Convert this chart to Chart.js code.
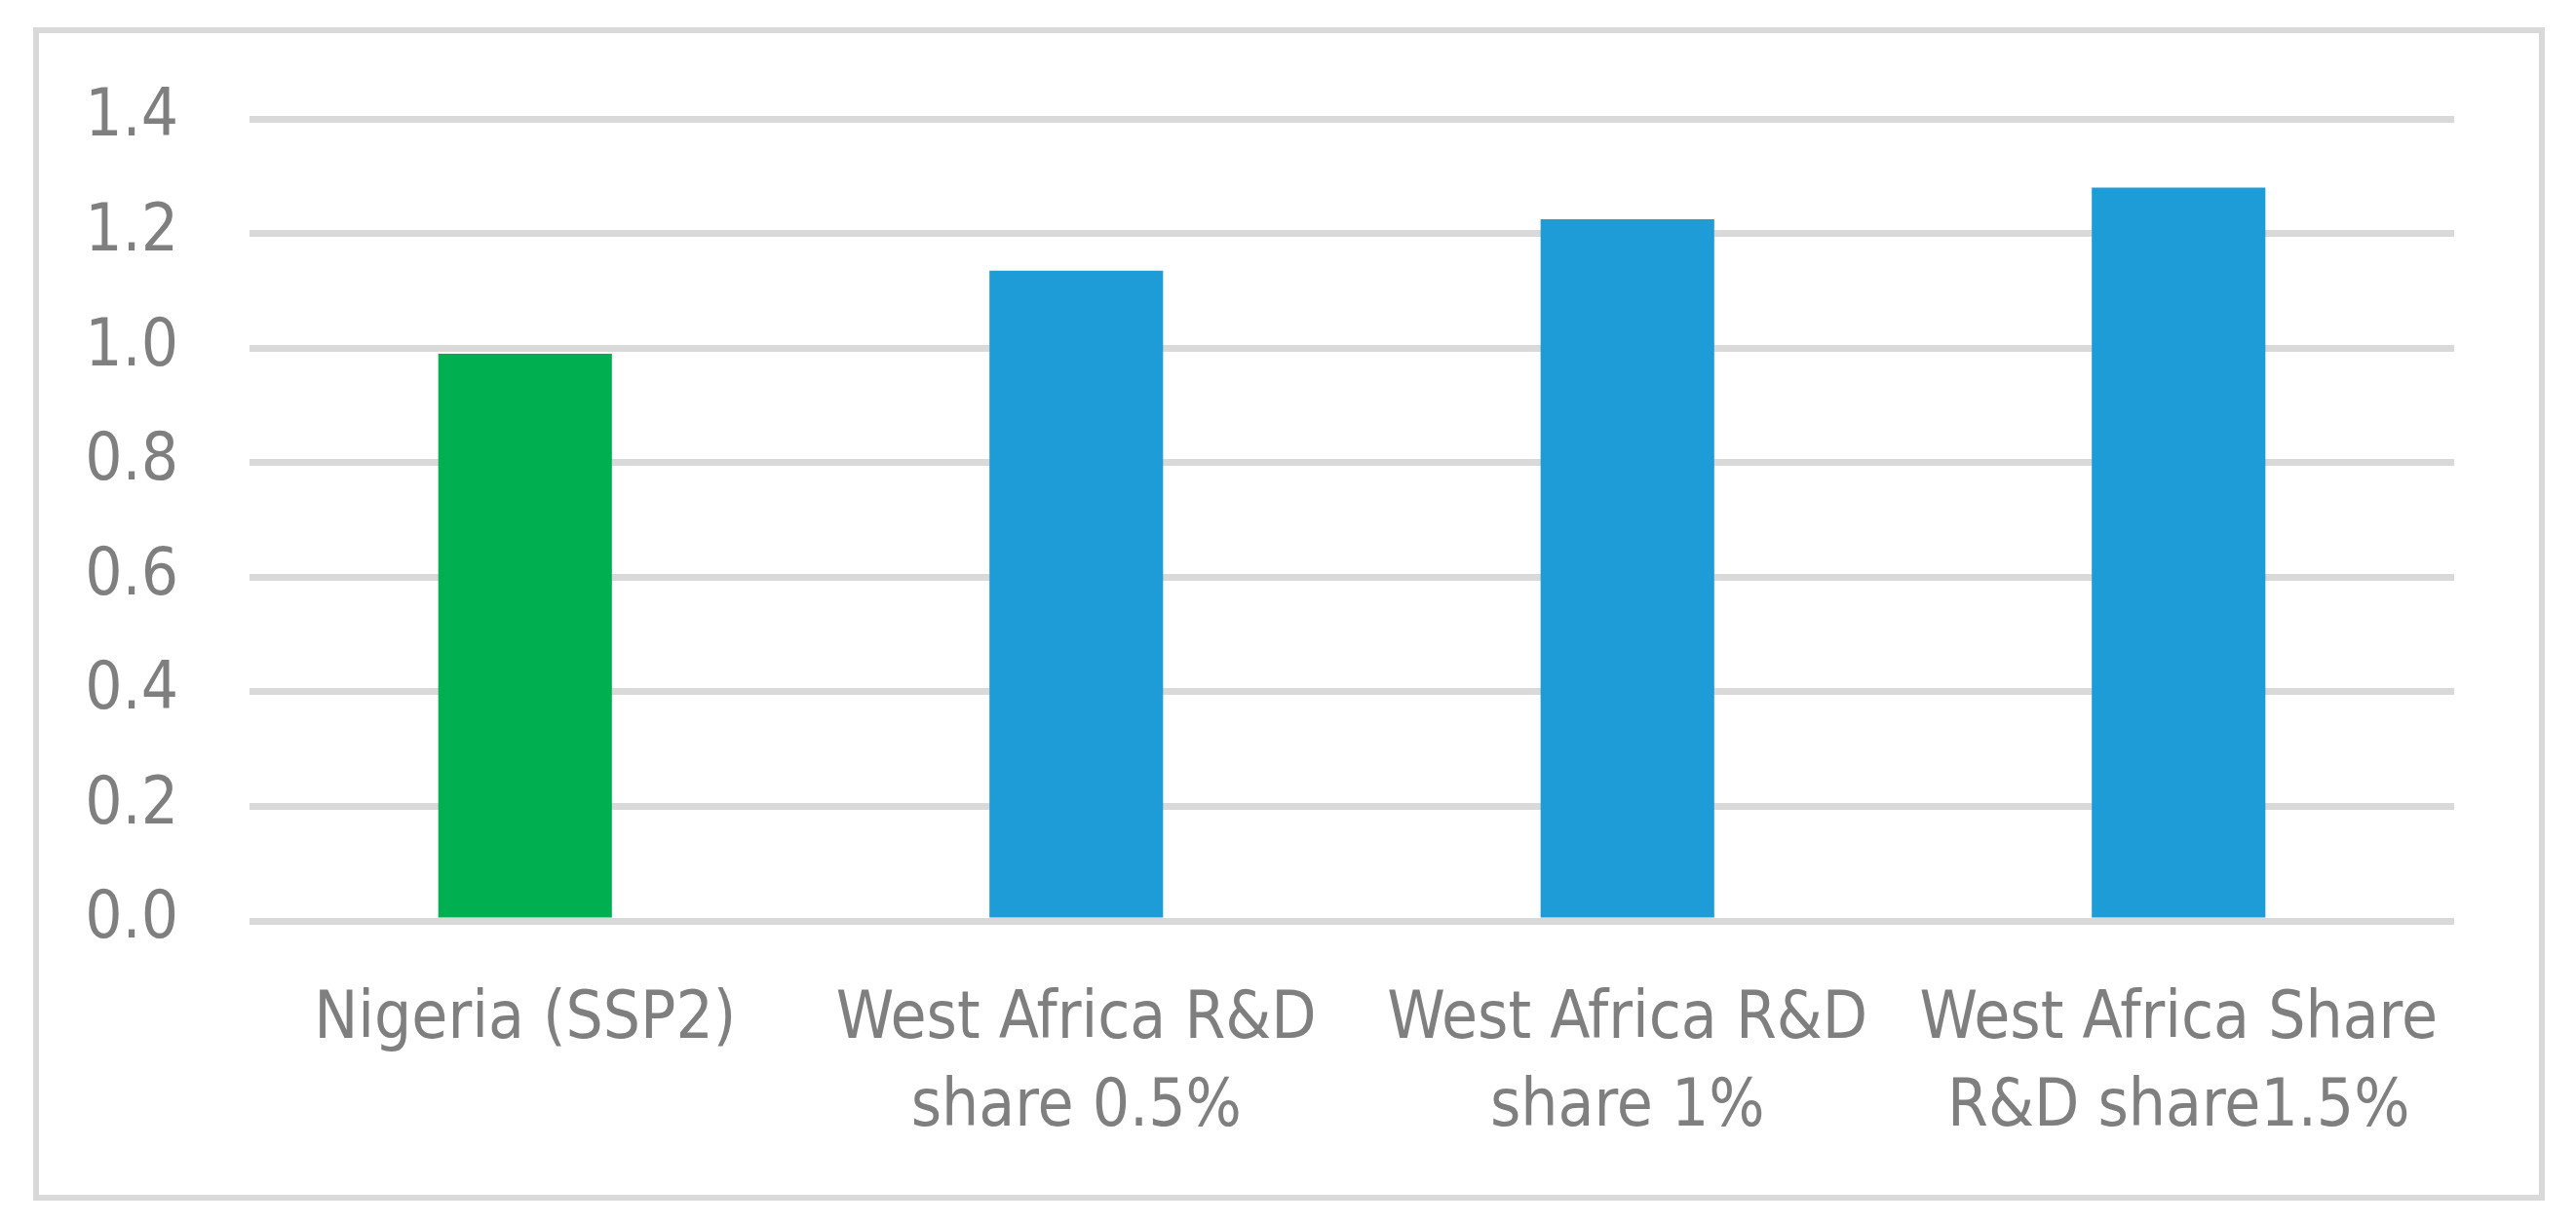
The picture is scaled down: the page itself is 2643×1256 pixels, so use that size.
<!DOCTYPE html>
<html>
<head>
<meta charset="utf-8">
<script src="https://cdn.jsdelivr.net/npm/chart.js@4.4.1/dist/chart.umd.min.js"></script>
<style>
  body { margin: 0; background: #fff; }
  #frame {
    position: absolute; left: 34px; top: 28px;
    width: 2577px; height: 1204px;
    box-sizing: border-box; border: 6px solid #d9d9d9; background: #fff;
  }
  #chart { display: block; }
</style>
</head>
<body>
<div id="frame"><canvas id="chart" width="2565" height="1192"></canvas></div>
<script>
// categories (multi-line labels as in the original)
var categories = [
  "Nigeria (SSP2)",
  ["West Africa R&D", "share 0.5%"],
  ["West Africa R&D", "share 1%"],
  ["West Africa Share", "R&D share1.5%"]
];
var values = [0.99, 1.135, 1.225, 1.28];
var barColors = ["#00b050", "#1e9cd8", "#1e9cd8", "#1e9cd8"];
var yTicks = [0.0, 0.2, 0.4, 0.6, 0.8, 1.0, 1.2, 1.4];

var labelFont = { family: "'DejaVu Sans Condensed', 'Liberation Sans', sans-serif", size: 67, lineHeight: 1.34 };

new Chart(document.getElementById("chart"), {
  type: 'bar',
  data: {
    labels: categories,
    datasets: [{
      data: values,
      backgroundColor: barColors,
      borderWidth: 0,
      categoryPercentage: 1,
      barPercentage: 0.315
    }]
  },
  options: {
    responsive: false,
    devicePixelRatio: 1,
    animation: false,
    layout: { padding: { top: 88, right: 87, left: 0, bottom: 0 } },
    plugins: { legend: { display: false }, tooltip: { enabled: false } },
    scales: {
      x: {
        grid: { display: false },
        border: { display: false },
        ticks: { color: '#7f7f7f', font: labelFont, padding: 50, maxRotation: 0, autoSkip: false },
        afterFit: function(scale) { scale.height = 281; }
      },
      y: {
        min: yTicks[0],
        max: yTicks[yTicks.length - 1],
        grid: { color: '#d9d9d9', lineWidth: 7, drawTicks: false },
        border: { display: false },
        ticks: {
          stepSize: 0.2,
          color: '#7f7f7f',
          font: labelFont,
          padding: 73,
          callback: function(v) { return Number(v).toFixed(1); }
        },
        afterFit: function(scale) {
          // fixed axis width; drop the label half-height padding so the plot top follows layout.padding
          scale.width = 216;
          scale.paddingTop = 0;
          scale.paddingBottom = 0;
        }
      }
    }
  }
});
</script>
</body>
</html>
